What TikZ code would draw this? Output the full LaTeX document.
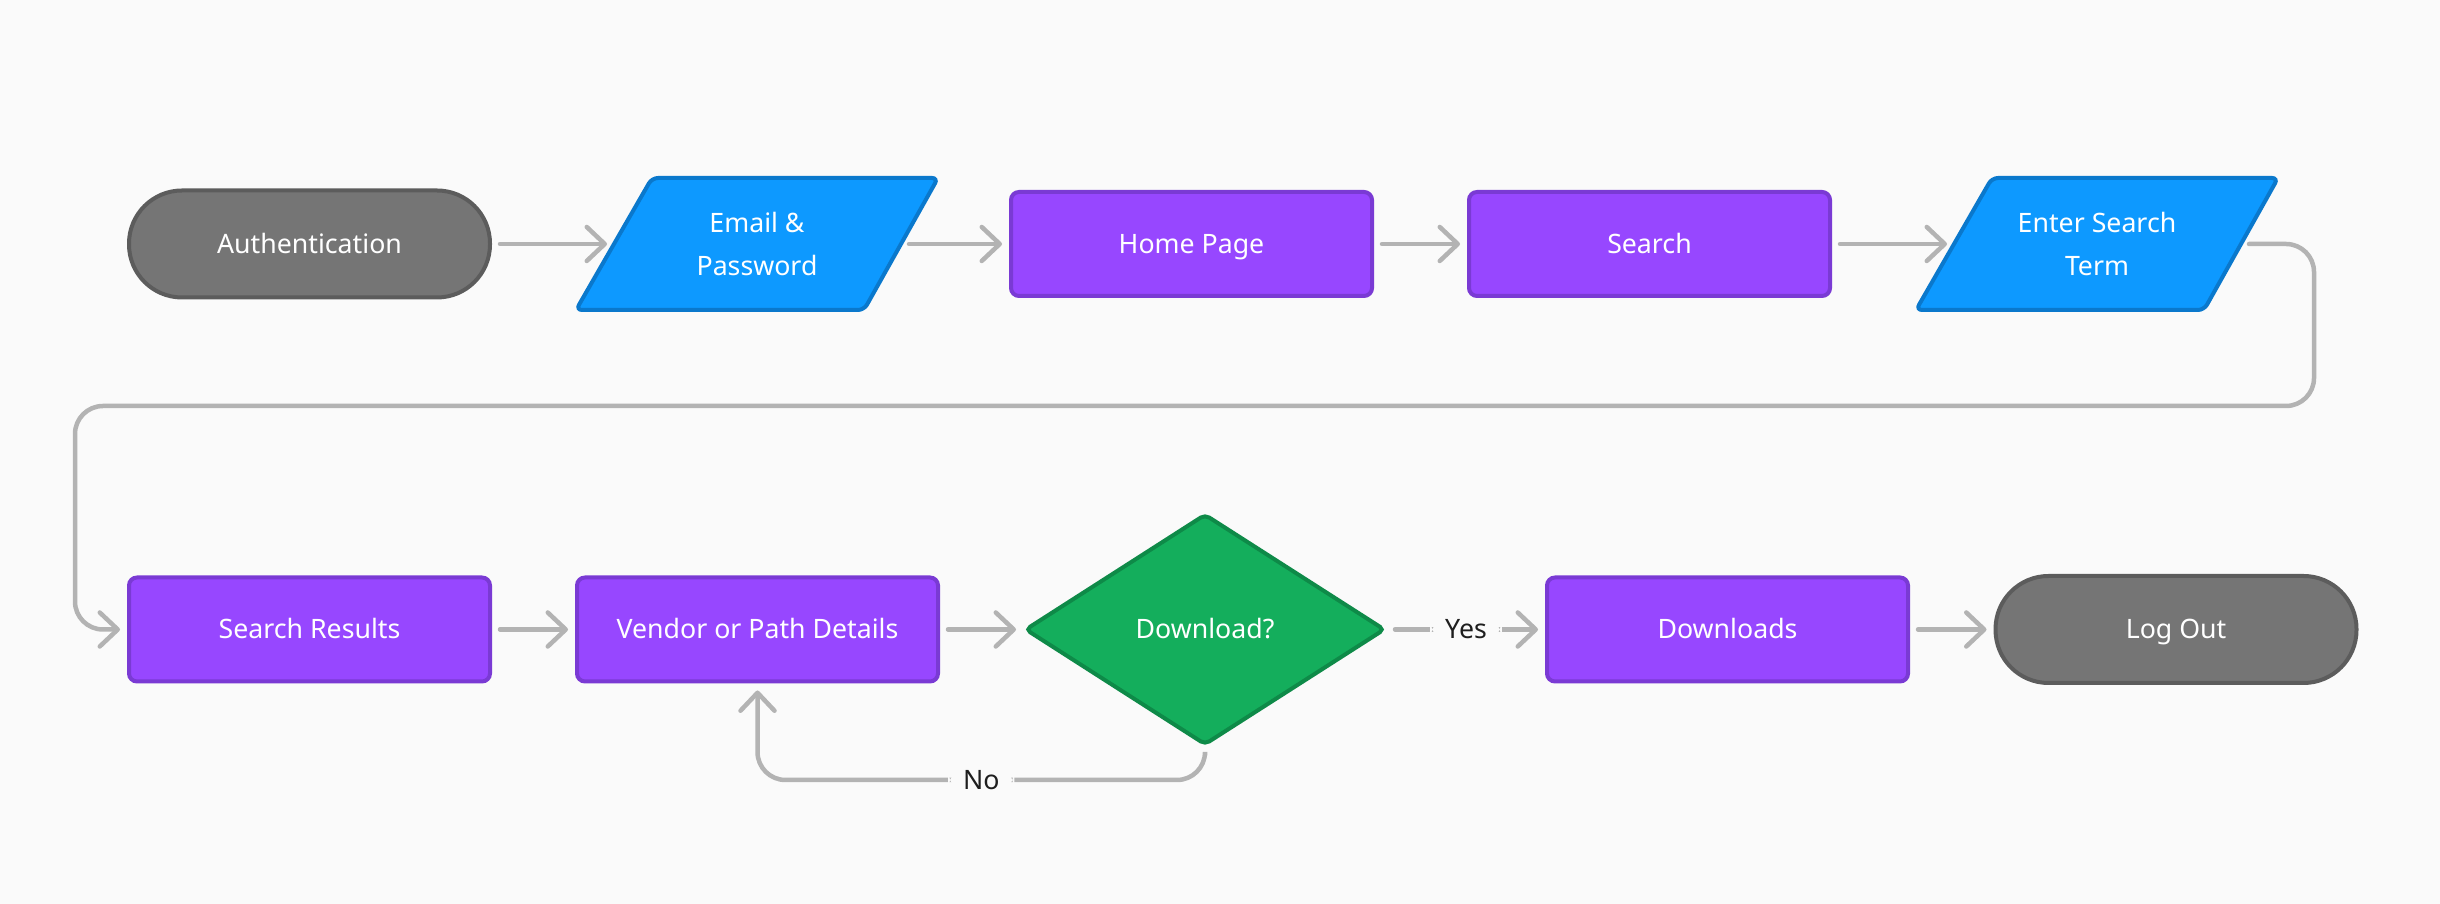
\documentclass[tikz,border=0pt]{standalone}
\usepackage{fontspec}
\setmainfont{Noto Sans}
\usetikzlibrary{arrows.meta,shapes.geometric,calc}
\definecolor{bg}{HTML}{FAFAFA}
\definecolor{gry}{HTML}{757575}
\definecolor{gryd}{HTML}{5C5C5C}
\definecolor{purp}{HTML}{9747FF}
\definecolor{purpd}{HTML}{7A3AD4}
\definecolor{blu}{HTML}{0D99FF}
\definecolor{blud}{HTML}{0A78CC}
\definecolor{grn}{HTML}{14AE5C}
\definecolor{grnd}{HTML}{0E8A48}
\definecolor{cgray}{HTML}{B3B3B3}
\definecolor{ink}{HTML}{1E1E1E}
\begin{document}
\begin{tikzpicture}[x=0.1mm,y=-0.1mm,
  base/.style={font=\fontsize{7.6}{12.2}\selectfont, text=white, line width=0.4mm, align=center, inner sep=0pt},
  one/.style={text height=6.2pt, text depth=0.8pt},
  proc/.style={base, one, rectangle, rounded corners=0.8mm, fill=purp, draw=purpd, minimum width=36.1mm, minimum height=10.4mm},
  term/.style={base, one, rectangle, rounded corners=5.3mm, fill=gry, draw=gryd, minimum width=36.1mm, minimum height=10.7mm},
  dec/.style={base, one, diamond, aspect=1.558, fill=grn, draw=grnd, minimum width=36mm, minimum height=23.1mm, rounded corners=0.5mm},
  iobox/.style={line width=0.4mm, fill=blu, draw=blud, rounded corners=0.6mm},
  iotext/.style={base},
  conn/.style={draw=cgray, line width=0.45mm, -{Straight Barb[length=1.8mm,width=3.4mm,round]}, line cap=round, rounded corners=2.8mm, shorten <=0.8mm, shorten >=0.7mm},
  lab/.style={font=\fontsize{7.6}{12.2}\selectfont, one, text=ink, fill=bg, inner xsep=1.5mm, inner ysep=0.5mm}
]
\fill[bg] (0,0) rectangle (2440,904);
\useasboundingbox (0,0) rectangle (2440,904);

% parallelograms
\draw[iobox, shift={(757,244)}] (-181,66) -- (107,66) -- (181,-66) -- (-105,-66) -- cycle;
\draw[iobox, shift={(2097,244)}] (-181,66) -- (107,66) -- (181,-66) -- (-105,-66) -- cycle;
\coordinate (emailL) at (614,244);
\coordinate (emailR) at (901,244);
\coordinate (enterL) at (1954,244);
\coordinate (enterR) at (2241,244);

% row 1
\node[term] (auth) at (309.5,244) {Authentication};
\node[iotext] (email) at (757,244) {Email \&\\Password};
\node[proc] (home) at (1191.5,244) {Home Page};
\node[proc] (search) at (1649.5,244) {Search};
\node[iotext] (enter) at (2097,244) {Enter Search\\Term};

% row 2
\node[proc] (sr) at (309.5,629.5) {Search Results};
\node[proc] (vendor) at (757.5,629.5) {Vendor or Path Details};
\node[dec] (dl) at (1205,629.5) {Download?};
\node[proc] (downloads) at (1727.5,629.5) {Downloads};
\node[term] (logout) at (2176,629.5) {Log Out};

% connectors
\draw[conn] (auth.east) -- (emailL);
\draw[conn] (emailR) -- (home.west);
\draw[conn] (home.east) -- (search.west);
\draw[conn] (search.east) -- (enterL);
\draw[conn] (enterR) -| (2314,406) -| (75,629.5) -- (sr.west);
\draw[conn] (sr.east) -- (vendor.west);
\draw[conn] (vendor.east) -- (dl.west);
\draw[conn] (dl.east) -- node[lab] {Yes} (downloads.west);
\draw[conn] (downloads.east) -- (logout.west);
\draw[conn] (dl.south) -- (1205,780) -- node[lab] {No} (757.5,780) -- (vendor.south);
\end{tikzpicture}
\end{document}
